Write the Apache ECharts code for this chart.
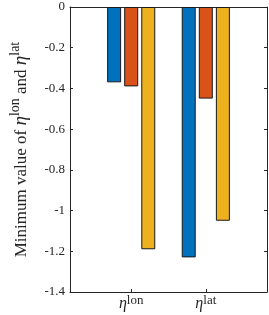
<!DOCTYPE html>
<html><head><meta charset="utf-8">
<script src="https://cdn.jsdelivr.net/npm/echarts@6/dist/echarts.min.js"></script>
<style>html,body{margin:0;padding:0;background:#fff}#c{width:269px;height:315px}</style>
</head><body><div id="c"></div>
<script>
const categories = ['lon', 'lat'];
const seriesA = [-0.37, -1.23];
const seriesB = [-0.39, -0.45];
const seriesC = [-1.19, -1.05];
const yTicks = [0, -0.2, -0.4, -0.6, -0.8, -1, -1.2, -1.4];
const colors = ['#0072BD', '#D95319', '#EDB120'];
const font = 'Liberation Serif';
const axisColor = '#262626';

const chart = echarts.init(document.getElementById('c'));
function mk(vals, i) {
  return {
    type: 'bar',
    data: vals.map((v, k) => [k + 1, v]),
    barWidth: 14,
    barGap: '22%',
    itemStyle: { color: colors[i], borderColor: '#1a1a1a', borderWidth: 1 },
    silent: true
  };
}
const xBase = {
  type: 'value', min: 0.18, max: 2.82,
  splitLine: { show: false },
  axisLine: { show: true, onZero: false, lineStyle: { color: axisColor, width: 1 } },
  axisTick: { show: true, inside: true, length: 3, customValues: [1, 2], lineStyle: { color: axisColor } },
};
chart.setOption({
  animation: false,
  grid: { left: 64, right: 2, top: 7, bottom: 23 },
  xAxis: [
    Object.assign({}, xBase, {
      position: 'bottom',
      axisLabel: {
        customValues: [1, 2],
        margin: 2,
        formatter: v => '{e|η}{s|' + categories[v - 1] + '}',
        rich: {
          e: { fontFamily: font, fontStyle: 'italic', fontSize: 16, color: axisColor, verticalAlign: 'bottom', lineHeight: 18 },
          s: { fontFamily: font, fontSize: 13, color: axisColor, verticalAlign: 'top', lineHeight: 18, padding: [0, 0, 6, 0] }
        }
      }
    }),
    Object.assign({}, xBase, { position: 'top', axisLabel: { show: false } })
  ],
  yAxis: [
    {
      type: 'value', min: -1.4, max: 0, interval: 0.2,
      splitLine: { show: false },
      axisLine: { show: true, onZero: false, lineStyle: { color: axisColor } },
      axisTick: { show: true, inside: true, length: 3, lineStyle: { color: axisColor } },
      axisLabel: {
        fontFamily: font, fontSize: 13, color: axisColor, margin: 5,
        formatter: v => { const r = Math.round(v * 10) / 10; return r === 0 ? '0' : String(r); }
      },
      name: '{t|Minimum value of }{e|η}{s|lon}{t| and }{e|η}{s|lat}',
      nameLocation: 'middle', nameGap: 40, nameRotate: 90,
      nameTextStyle: {
        rich: {
          t: { fontFamily: font, fontSize: 17, color: axisColor, verticalAlign: 'bottom', lineHeight: 22 },
          e: { fontFamily: font, fontStyle: 'italic', fontSize: 19, color: axisColor, verticalAlign: 'bottom', lineHeight: 22 },
          s: { fontFamily: font, fontSize: 14, color: axisColor, verticalAlign: 'top', lineHeight: 22, padding: [0, 0, 8, 0] }
        }
      }
    },
    {
      type: 'value', min: -1.4, max: 0, interval: 0.2, position: 'right',
      splitLine: { show: false },
      axisLine: { show: true, onZero: false, lineStyle: { color: axisColor } },
      axisTick: { show: true, inside: true, length: 3, lineStyle: { color: axisColor } },
      axisLabel: { show: false }
    }
  ],
  series: [mk(seriesA, 0), mk(seriesB, 1), mk(seriesC, 2)]
});
</script></body></html>
